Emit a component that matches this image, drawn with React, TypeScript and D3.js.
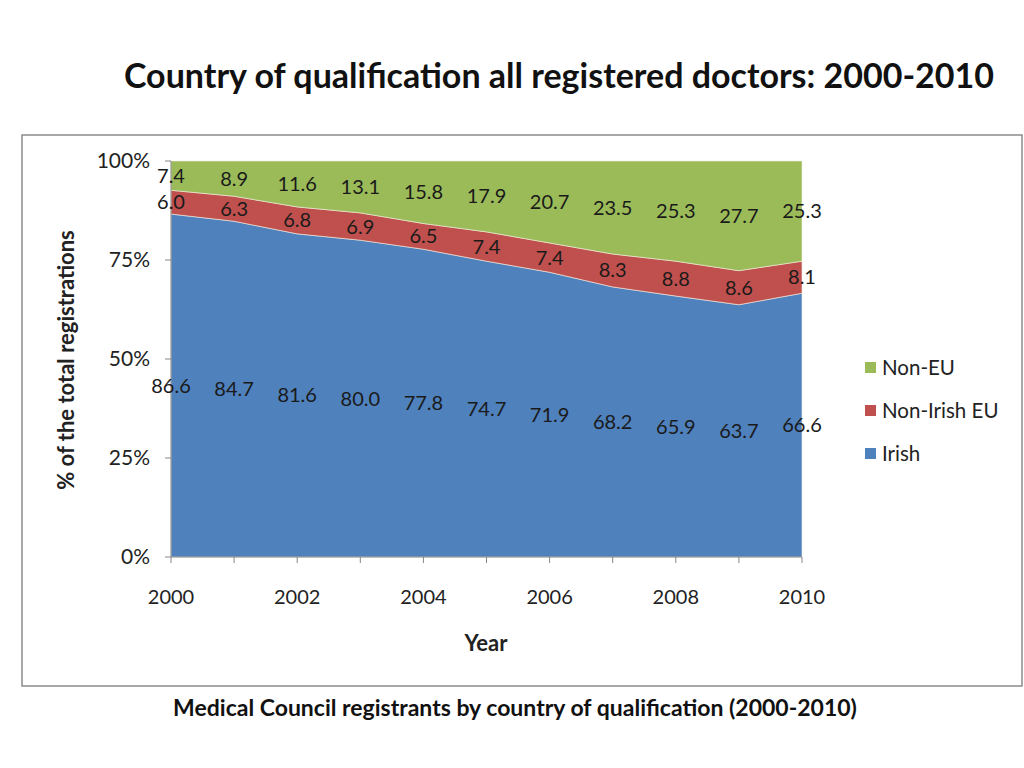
import React from "react";
import * as d3 from "d3";

const years = [2000, 2001, 2002, 2003, 2004, 2005, 2006, 2007, 2008, 2009, 2010];
const irish = [86.6, 84.7, 81.6, 80.0, 77.8, 74.7, 71.9, 68.2, 65.9, 63.7, 66.6];
const nonIrishEU = [6.0, 6.3, 6.8, 6.9, 6.5, 7.4, 7.4, 8.3, 8.8, 8.6, 8.1];
const nonEU = [7.4, 8.9, 11.6, 13.1, 15.8, 17.9, 20.7, 23.5, 25.3, 27.7, 25.3];
const seriesKeys = ["Irish", "Non-Irish EU", "Non-EU"];
const colors = ["#4F81BD", "#C0504D", "#9BBB59"];
const yTicks = [0, 0.25, 0.5, 0.75, 1];
const xTickLabels = [2000, 2002, 2004, 2006, 2008, 2010];

const FONT = "Lato, 'Open Sans', sans-serif";

export default function App() {
  const rows = years.map((y, i) => ({
    year: y,
    Irish: irish[i],
    "Non-Irish EU": nonIrishEU[i],
    "Non-EU": nonEU[i],
  }));
  const stack = d3.stack<any>().keys(seriesKeys).offset(d3.stackOffsetExpand);
  const layers = stack(rows);

  const x = d3.scaleLinear().domain([2000, 2010]).range([171, 802]);
  const y = d3.scaleLinear().domain([0, 1]).range([557, 161]);
  const area = d3
    .area<any>()
    .x((d) => x(d.data.year))
    .y0((d) => y(d[0]))
    .y1((d) => y(d[1]));

  const rawVals = [irish, nonIrishEU, nonEU];

  return (
    <svg width={1024} height={768} style={{ position: "absolute", left: 0, top: 0, background: "#fff" }}>
      <text x={559} y={88} textAnchor="middle" fontFamily={FONT} fontWeight="bold" fontSize={34} fill="#111">
        Country of qualification all registered doctors: 2000-2010
      </text>
      <rect x={22} y={135} width={1000} height={551} fill="#fff" stroke="#8c8c8c" strokeWidth={1.5} />

      {layers.map((layer, li) => (
        <path key={li} d={area(layer) as string} fill={colors[li]} stroke="#f4f0e0" strokeWidth={0.6} />
      ))}

      {/* axes */}
      <line x1={171} x2={171} y1={161} y2={557} stroke="#868686" />
      <line x1={171} x2={802} y1={557} y2={557} stroke="#868686" />
      {yTicks.map((t) => (
        <g key={t}>
          <line x1={165} x2={171} y1={y(t)} y2={y(t)} stroke="#868686" />
          <text x={150} y={y(t) + 7} textAnchor="end" fontFamily={FONT} fontSize={21} fill="#222">
            {`${t * 100}%`}
          </text>
        </g>
      ))}
      {years.map((yr) => (
        <line key={yr} x1={x(yr)} x2={x(yr)} y1={557} y2={563} stroke="#868686" />
      ))}
      {xTickLabels.map((yr) => (
        <text key={yr} x={x(yr)} y={604} textAnchor="middle" fontFamily={FONT} fontSize={20} fill="#222">
          {yr}
        </text>
      ))}
      <text x={486} y={651} textAnchor="middle" fontFamily={FONT} fontWeight="bold" fontSize={22} fill="#222">
        Year
      </text>
      <text
        transform={`translate(74,360) rotate(-90)`}
        textAnchor="middle"
        fontFamily={FONT}
        fontWeight="bold"
        fontSize={22}
        fill="#222"
      >
        % of the total registrations
      </text>

      {/* data labels */}
      {layers.map((layer, li) =>
        layer.map((d: any, i: number) => (
          <text
            key={`${li}-${i}`}
            x={x(d.data.year)}
            y={y((d[0] + d[1]) / 2) + 7}
            textAnchor="middle"
            fontFamily={FONT}
            fontSize={20}
            fill="#1a1a1a"
          >
            {rawVals[li][i].toFixed(1)}
          </text>
        ))
      )}

      {/* legend */}
      {[2, 1, 0].map((li, k) => (
        <g key={li}>
          <rect x={865} y={362 + k * 43} width={11} height={11} fill={colors[li]} />
          <text x={882} y={375 + k * 43} fontFamily={FONT} fontSize={20.5} fill="#222">
            {seriesKeys[li]}
          </text>
        </g>
      ))}

      <text x={515} y={716} textAnchor="middle" fontFamily={FONT} fontWeight="bold" fontSize={23} fill="#111">
        Medical Council registrants by country of qualification (2000-2010)
      </text>
    </svg>
  );
}
